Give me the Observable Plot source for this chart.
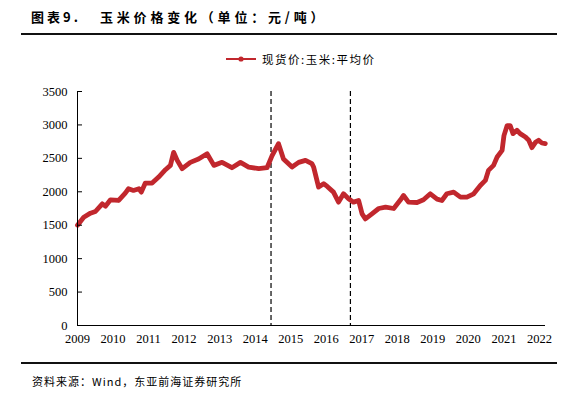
<!DOCTYPE html>
<html><head><meta charset="utf-8">
<script src="https://cdn.jsdelivr.net/npm/d3@7"></script>
<script src="https://cdn.jsdelivr.net/npm/@observablehq/plot@0.6"></script>
<style>
html,body{margin:0;padding:0;background:#fff;}
body{width:577px;height:399px;position:relative;overflow:hidden;font-family:"Noto Sans CJK SC",sans-serif;color:#000;}
#chart{position:absolute;left:0;top:0;}
#t1{position:absolute;left:31px;top:7px;font-size:13px;font-weight:bold;letter-spacing:3px;white-space:nowrap;}
#t2{position:absolute;left:100px;top:7px;font-size:13px;font-weight:bold;letter-spacing:3.8px;white-space:nowrap;}
#rule1{position:absolute;left:21px;width:536px;top:33px;height:0;border-top:2px solid #111;}
#rule2{position:absolute;left:21px;width:536px;top:362px;height:0;border-top:2px solid #111;}
#legend{position:absolute;left:226px;top:51px;font-size:11.5px;letter-spacing:1.5px;white-space:nowrap;display:flex;align-items:center;}
#legend svg{margin-right:6px;}
#caption{position:absolute;left:32px;top:373px;font-size:11px;letter-spacing:1px;white-space:nowrap;}
</style>
</head><body>
<div id="t1">图表9.</div>
<div id="t2">玉米价格变化（单位：元/吨）</div>
<div id="rule1"></div>
<div id="legend"><svg width="30" height="10"><line x1="0" y1="5" x2="30" y2="5" stroke="#C1272D" stroke-width="2"/><circle cx="15" cy="5" r="2.6" fill="#C1272D"/></svg><span id="legtext"></span></div>
<div id="chart"></div>
<div id="rule2"></div>
<div id="caption">资料来源：Wind，东亚前海证券研究所</div>
<script>
const seriesName = "现货价:玉米:平均价";
const dates = [
  "2009-01-01","2009-03-06","2009-05-14","2009-07-04","2009-09-13","2009-10-15","2009-12-06",
  "2010-02-28","2010-05-07","2010-06-09","2010-07-30","2010-09-24","2010-10-19","2010-11-29",
  "2011-02-07","2011-04-15","2011-06-24","2011-08-14","2011-09-16","2011-10-23","2011-12-13",
  "2012-03-06","2012-05-29","2012-08-25","2012-11-03",
  "2013-01-26","2013-05-07","2013-08-03","2013-10-26",
  "2014-02-07","2014-05-03","2014-06-24","2014-08-29","2014-10-19",
  "2015-01-15","2015-03-24","2015-06-02","2015-08-07","2015-08-25","2015-10-15","2015-12-06",
  "2016-01-12","2016-03-16","2016-05-07","2016-06-27","2016-08-18","2016-10-08","2016-11-29",
  "2017-01-04","2017-02-07","2017-04-15","2017-06-24","2017-09-02","2017-11-25",
  "2018-02-03","2018-03-06","2018-04-26","2018-07-23","2018-09-27","2018-12-06",
  "2019-02-14","2019-04-04","2019-05-25","2019-08-03","2019-10-12","2019-12-17",
  "2020-02-25","2020-05-03","2020-06-24","2020-07-26","2020-09-16","2020-10-23","2020-12-13",
  "2021-01-01","2021-02-03","2021-03-06","2021-04-04","2021-05-14","2021-06-16","2021-08-10",
  "2021-09-13","2021-10-15","2021-11-21","2021-12-24","2022-01-26","2022-03-02"
];
const prices = [
  1500,1620,1680,1705,1820,1785,1880,
  1870,1980,2045,2020,2045,1995,2130,
  2130,2220,2330,2395,2590,2470,2345,
  2440,2490,2570,2395,
  2440,2360,2440,2370,
  2345,2360,2540,2720,2490,
  2370,2440,2470,2420,2370,2070,2120,
  2080,1995,1845,1970,1895,1845,1870,
  1670,1595,1670,1750,1770,1750,
  1880,1945,1845,1840,1880,1970,
  1890,1870,1970,1995,1920,1920,
  1970,2095,2170,2320,2395,2520,2620,
  2840,2990,2990,2870,2920,2870,2820,
  2770,2660,2740,2770,2730,2720
];
const eventDates = ["2014-06-13","2016-09-06"];
const yearTicks = ["2009","2010","2011","2012","2013","2014","2015","2016","2017","2018","2019","2020","2021","2022"];
const yTicks = [0,500,1000,1500,2000,2500,3000,3500];

document.getElementById("legtext").textContent = seriesName;

const data = dates.map((d,i)=>({date:new Date(d), price:prices[i]}));
const chart = Plot.plot({
  width:577, height:399,
  marginLeft:77, marginRight:32, marginTop:91, marginBottom:74,
  style:{fontFamily:"'Liberation Serif', 'Times New Roman', serif", fontSize:"12px", color:"#000", background:"transparent"},
  x:{type:"utc", domain:[new Date("2009-01-01"), new Date("2022-03-04")]},
  y:{domain:[0,3500]},
  marks:[
    Plot.ruleX(eventDates.map(d=>new Date(d)), {stroke:"#000", strokeDasharray:"5,3", strokeWidth:1.2}),
    Plot.line(data,{x:"date",y:"price",stroke:"#C1272D",strokeWidth:4.8,strokeLinejoin:"round",strokeLinecap:"round"}),
    Plot.axisY({ticks:yTicks, tickSize:-5, tickPadding:15, tickFormat:d=>String(d), label:null, fontSize:12.5}),
    Plot.axisX({ticks:yearTicks.map(y=>new Date(y+"-01-01")), tickFormat:"%Y", tickSize:0, tickPadding:9, label:null, fontSize:12.5}),
    Plot.ruleY([0], {stroke:"#000"}),
    Plot.ruleX([data[0].date], {stroke:"#000"})
  ]
});
document.getElementById("chart").appendChild(chart);
</script>
</body></html>
